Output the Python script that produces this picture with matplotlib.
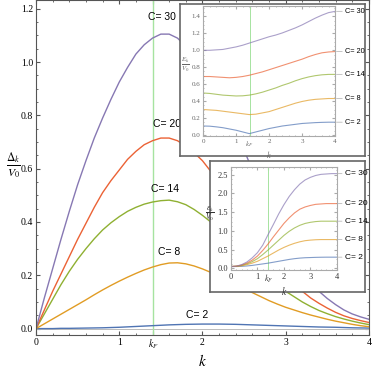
import numpy as np
import matplotlib.pyplot as plt
from matplotlib.ticker import MultipleLocator

plt.rcParams['mathtext.fontset'] = 'stix'
plt.rcParams['font.family'] = ['Liberation Serif', 'DejaVu Serif']

# sample points in k (main plot, fine)
k_main = [0.0, 0.1, 0.2, 0.3, 0.4, 0.5, 0.6, 0.7, 0.8, 0.9, 1.0,
          1.1, 1.2, 1.3, 1.4, 1.5, 1.6, 1.7, 1.8, 1.9, 2.0,
          2.1, 2.2, 2.3, 2.4, 2.5, 2.6, 2.7, 2.8, 2.9, 3.0,
          3.1, 3.2, 3.3, 3.4, 3.5, 3.6, 3.7, 3.8, 3.9, 4.0]
# sample points in k (insets)
k = [0.0, 0.2, 0.4, 0.6, 0.8, 1.0, 1.2, 1.4, 1.6, 1.8, 2.0,
     2.2, 2.4, 2.6, 2.8, 3.0, 3.2, 3.4, 3.6, 3.8, 4.0]
kF = 1.41
labels = ['C= 2', 'C= 8', 'C= 14', 'C= 20', 'C= 30']
colors = ['#4f74b3', '#e19c24', '#8fb032', '#eb6235', '#8778b3']

# gap Delta_k / V0 (main plot)
gap_c2 = [0.0, 0.0, 0.0, 0.001, 0.001, 0.0015, 0.002, 0.0025, 0.003, 0.004, 0.005,
          0.0065, 0.008, 0.0095, 0.011, 0.0125, 0.014, 0.015, 0.016, 0.0165, 0.017,
          0.017, 0.017, 0.0165, 0.016, 0.015, 0.014, 0.013, 0.012, 0.011, 0.010,
          0.009, 0.008, 0.007, 0.006, 0.0055, 0.005, 0.004, 0.003, 0.0025, 0.002]
gap_c8 = [0.0, 0.018, 0.036, 0.054, 0.072, 0.09, 0.108, 0.127, 0.145, 0.162, 0.178,
          0.193, 0.207, 0.22, 0.231, 0.24, 0.246, 0.247, 0.243, 0.235, 0.224,
          0.211, 0.196, 0.181, 0.165, 0.15, 0.135, 0.12, 0.105, 0.092, 0.08,
          0.07, 0.06, 0.051, 0.043, 0.035, 0.028, 0.022, 0.016, 0.011, 0.007]
gap_c14 = [0.0, 0.055, 0.11, 0.165, 0.215, 0.26, 0.30, 0.337, 0.37, 0.397, 0.42,
           0.44, 0.455, 0.467, 0.475, 0.48, 0.482, 0.476, 0.465, 0.447, 0.425,
           0.40, 0.37, 0.34, 0.31, 0.28, 0.25, 0.22, 0.19, 0.165, 0.14,
           0.12, 0.10, 0.083, 0.068, 0.056, 0.045, 0.036, 0.028, 0.021, 0.015]
gap_c20 = [0.0, 0.07, 0.14, 0.205, 0.27, 0.335, 0.395, 0.455, 0.51, 0.555, 0.595,
           0.635, 0.665, 0.69, 0.705, 0.715, 0.715, 0.705, 0.685, 0.66, 0.63,
           0.59, 0.55, 0.505, 0.46, 0.415, 0.37, 0.325, 0.28, 0.24, 0.20,
           0.168, 0.14, 0.115, 0.095, 0.077, 0.061, 0.048, 0.038, 0.03, 0.023]
gap_c30 = [0.0, 0.115, 0.225, 0.335, 0.44, 0.54, 0.63, 0.715, 0.79, 0.86, 0.925,
           0.98, 1.03, 1.065, 1.09, 1.105, 1.105, 1.09, 1.06, 1.03, 0.99,
           0.94, 0.88, 0.815, 0.745, 0.67, 0.595, 0.52, 0.445, 0.375, 0.31,
           0.255, 0.21, 0.17, 0.14, 0.113, 0.09, 0.07, 0.055, 0.044, 0.035]

# quasiparticle energy E_k / V0 (upper inset)
E_c2 = [0.105, 0.103, 0.095, 0.085, 0.07, 0.055, 0.035, 0.015, 0.035, 0.055, 0.075,
        0.09, 0.105, 0.115, 0.125, 0.135, 0.14, 0.145, 0.148, 0.15, 0.15]
E_c8 = [0.30, 0.295, 0.29, 0.28, 0.27, 0.26, 0.25, 0.24, 0.245, 0.26, 0.275,
        0.30, 0.325, 0.35, 0.375, 0.395, 0.41, 0.42, 0.425, 0.43, 0.43]
E_c14 = [0.495, 0.49, 0.48, 0.47, 0.465, 0.46, 0.462, 0.47, 0.485, 0.505, 0.53,
         0.555, 0.585, 0.61, 0.64, 0.665, 0.685, 0.70, 0.71, 0.715, 0.715]
E_c20 = [0.69, 0.69, 0.685, 0.68, 0.675, 0.68, 0.69, 0.705, 0.725, 0.745, 0.77,
         0.795, 0.82, 0.845, 0.87, 0.895, 0.925, 0.95, 0.97, 0.98, 0.985]
E_c30 = [1.00, 1.00, 1.005, 1.01, 1.025, 1.04, 1.06, 1.085, 1.11, 1.135, 1.16,
         1.18, 1.205, 1.235, 1.265, 1.30, 1.34, 1.38, 1.415, 1.445, 1.46]

# single particle energy eps_k / V0 (lower inset)
eps_c2 = [0.05, 0.05, 0.055, 0.065, 0.08, 0.10, 0.12, 0.14, 0.165, 0.19, 0.215,
          0.24, 0.26, 0.275, 0.285, 0.29, 0.295, 0.298, 0.30, 0.30, 0.30]
eps_c8 = [0.05, 0.055, 0.07, 0.10, 0.14, 0.19, 0.26, 0.33, 0.41, 0.49, 0.56,
          0.62, 0.67, 0.71, 0.74, 0.755, 0.765, 0.77, 0.77, 0.77, 0.77]
eps_c14 = [0.05, 0.06, 0.08, 0.12, 0.18, 0.26, 0.37, 0.49, 0.62, 0.75, 0.88,
           0.99, 1.08, 1.15, 1.20, 1.23, 1.25, 1.26, 1.26, 1.26, 1.26]
eps_c20 = [0.05, 0.06, 0.09, 0.14, 0.22, 0.33, 0.48, 0.65, 0.84, 1.02, 1.20,
           1.35, 1.48, 1.58, 1.64, 1.68, 1.71, 1.72, 1.73, 1.73, 1.73]
eps_c30 = [0.05, 0.06, 0.10, 0.17, 0.28, 0.42, 0.62, 0.90, 1.17, 1.45, 1.70,
           1.92, 2.10, 2.25, 2.36, 2.43, 2.48, 2.51, 2.52, 2.53, 2.53]

gaps = [gap_c2, gap_c8, gap_c14, gap_c20, gap_c30]
Es = [E_c2, E_c8, E_c14, E_c20, E_c30]
epss = [eps_c2, eps_c8, eps_c14, eps_c20, eps_c30]

frame_col = '#555555'
kf_col = '#a6e3a0'

fig = plt.figure(figsize=(3.74, 3.70), dpi=100)


def style_frame(ax, col, size):
    for s in ax.spines.values():
        s.set_color(col)
        s.set_linewidth(0.8)
    ax.tick_params(which='both', direction='in', top=True, right=True,
                   color=col, labelsize=size, pad=2)
    ax.tick_params(which='major', length=3)
    ax.tick_params(which='minor', length=1.6)


# main plot
ax = fig.add_axes([0.0963, 0.0946, 0.890, 0.9054])
ax.axhline(0, color='#bbbbbb', lw=0.7)
ax.axvline(kF, color=kf_col, lw=1.0)
for g, c in zip(gaps, colors):
    ax.plot(k_main, g, color=c, lw=1.0)
ax.set_xlim(0, 4)
ax.set_ylim(-0.024, 1.233)
ax.set_xticks([0, 1, kF, 2, 3, 4])
ax.set_xticklabels(['0', '1', '$k_F$', '2', '3', '4'])
ax.xaxis.set_minor_locator(MultipleLocator(0.2))
ax.set_yticks([0.0, 0.2, 0.4, 0.6, 0.8, 1.0, 1.2])
ax.set_yticklabels(['0.0', '0.2', '0.4', '0.6', '0.8', '1.0', '1.2'])
ax.yaxis.set_minor_locator(MultipleLocator(0.05))
style_frame(ax, frame_col, 7)
ax.set_xlabel('$k$', fontsize=11, labelpad=1)
fig.text(0.036, 0.552, r'$\frac{\Delta_k}{V_0}$', fontsize=12, ha='center', va='center')

lab_pos = [(1.94, 0.05), (1.6, 0.287), (1.545, 0.524), (1.57, 0.767), (1.51, 1.169)]
for (x, y), t in zip(lab_pos, labels):
    ax.text(x, y, t, fontsize=7.5, family='Liberation Sans', ha='center', va='center')


def inset(box, inner, ys, ylim, yticks, ylab, ylabpos, lab_ys, size, labsize, tickcol):
    bx = fig.add_axes(box, zorder=5)
    bx.set_facecolor('white')
    bx.set_xticks([])
    bx.set_yticks([])
    for s in bx.spines.values():
        s.set_color('#666666')
        s.set_linewidth(1.2)
    ia = fig.add_axes(inner, zorder=6)
    ia.axvline(kF, color=kf_col, lw=0.7)
    for y, c in zip(ys, colors):
        ia.plot(k, y, color=c, lw=0.8, alpha=0.7)
    ia.set_xlim(0, 4)
    ia.set_ylim(*ylim)
    ia.set_xticks([0, 1, kF, 2, 3, 4])
    ia.set_xticklabels(['0', '1', '$k_F$', '2', '3', '4'])
    ia.xaxis.set_minor_locator(MultipleLocator(0.2))
    ia.set_yticks(yticks)
    ia.set_yticklabels(['%.1f' % v for v in yticks])
    ia.yaxis.set_minor_locator(MultipleLocator(yticks[1] / 4))
    style_frame(ia, '#aaaaaa', size)
    ia.tick_params(labelcolor=tickcol)
    ia.tick_params(which='major', length=2)
    ia.tick_params(which='minor', length=1)
    ia.set_xlabel('$k$', fontsize=size + 1, labelpad=0, color=tickcol)
    ia.text(ylabpos[0], ylabpos[1], ylab, transform=ia.transAxes,
            fontsize=size + 2, ha='center', va='center', color=tickcol)
    for y, ly, t in zip(ys, lab_ys, labels):
        ia.annotate(t, xy=(4, y[-1]), xytext=(4.3, ly), textcoords='data',
                    fontsize=labsize, family='Liberation Sans', va='center',
                    annotation_clip=False,
                    arrowprops=dict(arrowstyle='-', color='#bbbbbb', lw=0.6,
                                    shrinkA=0, shrinkB=1))


inset([0.481, 0.578, 0.495, 0.411], [0.543, 0.632, 0.353, 0.351], Es,
      (-0.015, 1.52), [0.0, 0.2, 0.4, 0.6, 0.8, 1.0, 1.2, 1.4],
      r'$\frac{E_k}{V_0}$', (-0.13, 0.55), [0.15, 0.43, 0.715, 0.985, 1.46], 5, 5.3, '#666666')
inset([0.5615, 0.211, 0.414, 0.354], [0.6176, 0.270, 0.283, 0.278], epss,
      (-0.045, 2.7), [0.0, 0.5, 1.0, 1.5, 2.0, 2.5],
      r'$\frac{\varepsilon_k}{V_0}$', (-0.2, 0.55), [0.30, 0.77, 1.26, 1.73, 2.53], 6, 6, '#333333')

fig.savefig('out.png', dpi=100)
